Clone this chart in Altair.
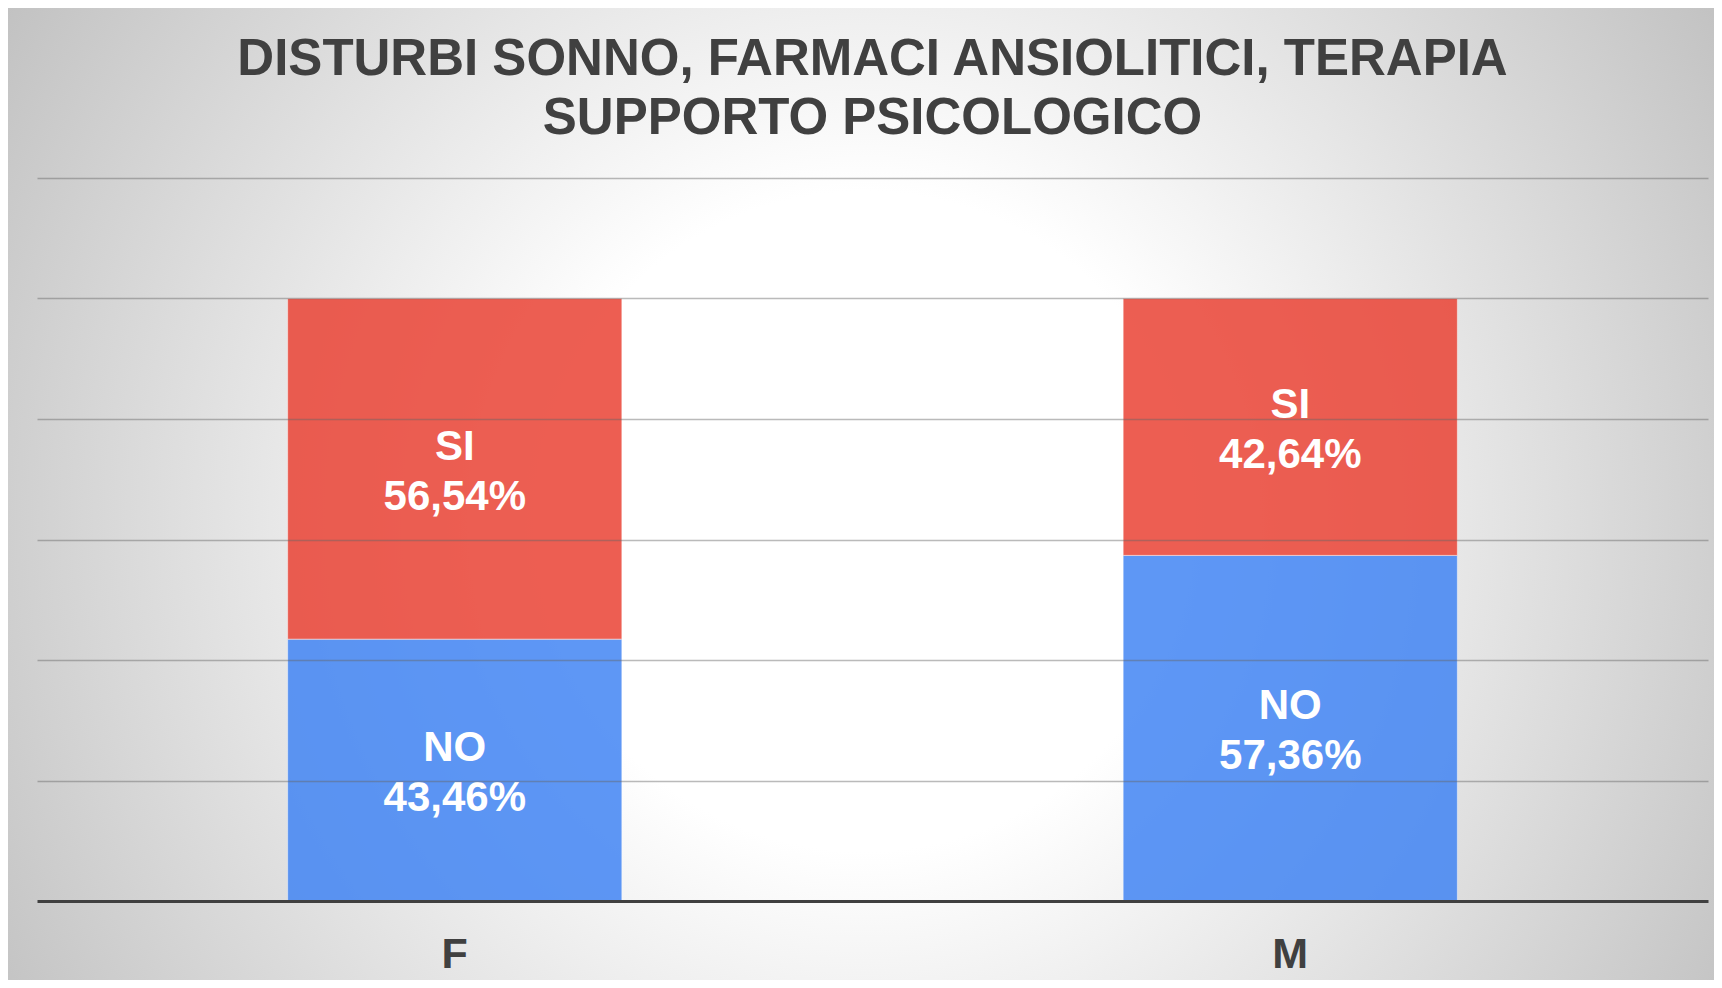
import altair as alt
import pandas as pd

# ---- data ----
CATEGORIES = ["F", "M"]
SERIES = ["NO", "SI"]
NO_VALUES = [43.46, 57.36]
SI_VALUES = [56.54, 42.64]
SERIES_COLORS = ["#4285F4", "#EA4335"]
GRID_VALUES = [20, 40, 60, 80, 100, 120]
TITLE_LINES = ["DISTURBI SONNO, FARMACI ANSIOLITICI, TERAPIA", "SUPPORTO PSICOLOGICO"]

rows = []
for i, cat in enumerate(CATEGORIES):
    for ordi, (ser, vals) in enumerate(zip(SERIES, [NO_VALUES, SI_VALUES])):
        v = vals[i]
        rows.append({
            "category": cat,
            "series": ser,
            "value": v,
            "ord": ordi,
            "label": ser + "\n" + f"{v:.2f}".replace(".", ",") + "%",
        })
df = pd.DataFrame(rows)

FONT = "Liberation Sans"
W, H = 1671, 723
PAD = {"left": 29, "top": 170, "right": 6, "bottom": 79}

x_scale = alt.Scale(domain=CATEGORIES, paddingInner=0.6, paddingOuter=0.3)
y_scale = alt.Scale(domain=[0, 120], nice=False, zero=True)
x_axis = alt.Axis(title=None, labelAngle=0, labelFontSize=43, labelFont=FONT,
                  labelFontWeight="bold", labelColor="#404040", labelPadding=32,
                  ticks=False, domainColor="#404040", domainWidth=3, grid=False, zindex=1)
y_axis = alt.Axis(title=None, values=GRID_VALUES, labels=False, ticks=False, domain=False,
                  grid=True, gridColor="#666666", gridOpacity=0.45, gridWidth=1.5, zindex=1)

one = pd.DataFrame({"k": [0]})

background = alt.Chart(one).mark_rect(
    fill=alt.Gradient(
        gradient="radial",
        stops=[alt.GradientStop(color="#ffffff", offset=0),
               alt.GradientStop(color="#ffffff", offset=0.33),
               alt.GradientStop(color="#c2c2c2", offset=1)],
        x1=0.502, y1=0.516, r1=0,
        x2=0.502, y2=0.516, r2=0.586,
    )
).encode(
    x=alt.value(-PAD["left"]), x2=alt.value(W + PAD["right"]),
    y=alt.value(-PAD["top"]), y2=alt.value(H + PAD["bottom"]),
)

bars = alt.Chart(df).mark_bar(opacity=0.85, stroke="white", strokeWidth=1, strokeOpacity=0.5).encode(
    x=alt.X("category:N", scale=x_scale, axis=x_axis, sort=CATEGORIES),
    y=alt.Y("value:Q", stack="zero", scale=y_scale, axis=y_axis),
    color=alt.Color("series:N", scale=alt.Scale(domain=SERIES, range=SERIES_COLORS), legend=None),
    order=alt.Order("ord:Q"),
)

labels = alt.Chart(df).transform_stack(
    stack="value", as_=["y0", "y1"], groupby=["category"], sort=[alt.SortField("ord")]
).transform_calculate(
    mid="(datum.y0 + datum.y1) / 2"
).mark_text(
    font=FONT, fontWeight="bold", fontSize=42, color="white",
    lineBreak="\n", lineHeight=50, baseline="middle", align="center", dy=-22,
).encode(
    x=alt.X("category:N", scale=x_scale, axis=x_axis, sort=CATEGORIES),
    y=alt.Y("mid:Q", scale=y_scale, axis=y_axis),
    text="label:N",
)

title = alt.Chart(one).mark_text(
    font=FONT, fontWeight="bold", fontSize=51, color="#404040",
    align="center", baseline="alphabetic", lineHeight=59,
).encode(
    x=alt.value(W / 2), y=alt.value(-103), text=alt.value(TITLE_LINES),
)

chart = alt.layer(background, bars, labels, title).properties(
    width=W, height=H, padding=PAD,
    autosize=alt.AutoSizeParams(type="none"),
).configure_view(stroke=None)

chart.save("out.html", embed_options={"renderer": "svg", "actions": False})
